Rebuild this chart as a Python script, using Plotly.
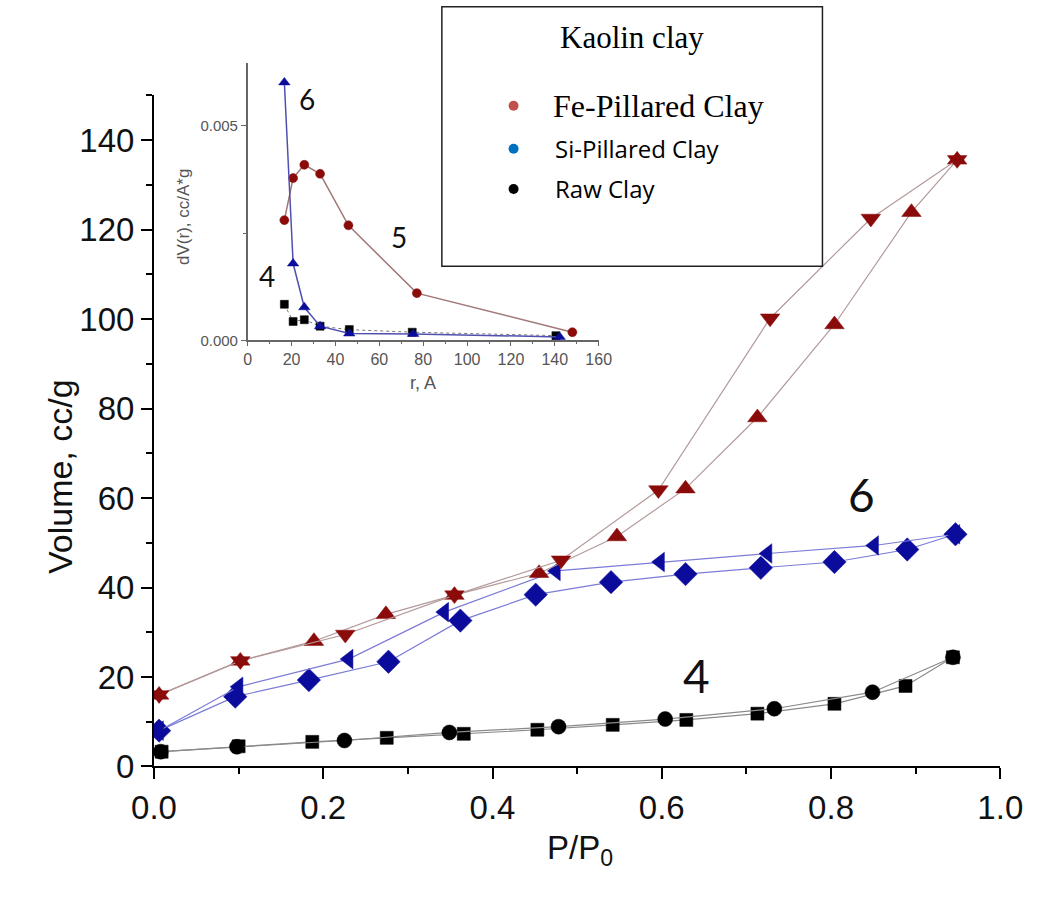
import plotly.graph_objects as go

W, H = 1052, 899

# ---------------- main isotherm data (P/P0, Volume cc/g) ----------------
fe_ads_p = [0.006, 0.102, 0.189, 0.274, 0.355, 0.455, 0.547, 0.628, 0.713, 0.804, 0.895, 0.949]
fe_ads_v = [16.0, 23.6, 28.0, 34.0, 38.3, 43.2, 51.4, 62.1, 78.0, 98.8, 123.9, 135.6]
fe_des_p = [0.949, 0.847, 0.728, 0.596, 0.481, 0.355, 0.226, 0.102, 0.006]
fe_des_v = [135.6, 122.5, 100.2, 61.8, 46.1, 38.3, 29.5, 23.6, 16.0]

si_ads_p = [0.006, 0.096, 0.183, 0.277, 0.362, 0.451, 0.540, 0.628, 0.717, 0.804, 0.890, 0.947]
si_ads_v = [8.0, 15.6, 19.3, 23.4, 32.6, 38.4, 41.2, 43.0, 44.4, 45.7, 48.5, 51.9]
si_des_p = [0.947, 0.851, 0.725, 0.598, 0.475, 0.343, 0.230, 0.100, 0.006]
si_des_v = [51.9, 49.4, 47.6, 45.7, 43.7, 34.5, 24.0, 17.8, 8.0]

raw_ads_p = [0.009, 0.100, 0.187, 0.275, 0.366, 0.453, 0.542, 0.629, 0.713, 0.804, 0.888, 0.944]
raw_ads_v = [3.3, 4.5, 5.5, 6.4, 7.3, 8.2, 9.3, 10.4, 11.8, 14.0, 18.0, 24.4]
raw_des_p = [0.944, 0.849, 0.733, 0.604, 0.478, 0.349, 0.225, 0.098, 0.008]
raw_des_v = [24.4, 16.6, 12.9, 10.6, 8.9, 7.6, 5.8, 4.4, 3.3]

# ---------------- inset pore-size distribution (r in A, dV/dr) ----------------
fe_r = [16.7, 20.7, 25.8, 33.0, 45.9, 77.1, 148.0]
fe_dv = [0.00280, 0.00378, 0.00409, 0.00388, 0.00268, 0.00110, 0.00019]
si_r = [16.7, 20.7, 25.8, 33.0, 46.3, 75.4, 142.2]
si_dv = [0.00601, 0.00179, 0.00077, 0.00033, 0.00016, 0.00015, 0.00008]
raw_r = [16.7, 20.7, 25.8, 33.0, 46.3, 75.0, 140.5]
raw_dv = [0.00084, 0.00044, 0.00048, 0.00033, 0.00025, 0.00019, 0.00011]

x_ticks_main = [0.0, 0.2, 0.4, 0.6, 0.8, 1.0]
y_ticks_main = [0, 20, 40, 60, 80, 100, 120, 140]

FE = "#8b0a0a"
SI = "#0c0c9c"
RAW = "#000000"
FE_LINE = "#b49a9a"
SI_LINE = "#7b7bd8"
RAW_LINE = "#8a8a8a"

fig = go.Figure()

def main_trace(x, y, symbol, color, lcolor, size):
    fig.add_trace(go.Scatter(
        x=x, y=y, mode="lines+markers", xaxis="x", yaxis="y",
        line=dict(color=lcolor, width=1.2),
        marker=dict(symbol=symbol, color=color, size=size,
                    line=dict(width=0.5, color=color)),
        showlegend=False, hoverinfo="x+y"))

main_trace(raw_ads_p, raw_ads_v, "square", RAW, RAW_LINE, 13)
main_trace(raw_des_p, raw_des_v, "circle", RAW, RAW_LINE, 15)
main_trace(si_ads_p, si_ads_v, "diamond", SI, SI_LINE, 18)
main_trace(si_des_p, si_des_v, "triangle-left", SI, SI_LINE, 17)
main_trace(fe_ads_p, fe_ads_v, "triangle-up", FE, FE_LINE, 17)
main_trace(fe_des_p, fe_des_v, "triangle-down", FE, FE_LINE, 17)

def inset_trace(x, y, symbol, color, lcolor, size, dash="solid", lw=1.5):
    fig.add_trace(go.Scatter(
        x=x, y=y, mode="lines+markers", xaxis="x2", yaxis="y2",
        line=dict(color=lcolor, width=lw, dash=dash),
        marker=dict(symbol=symbol, color=color, size=size,
                    line=dict(width=0.5, color=color)),
        showlegend=False, hoverinfo="x+y"))

inset_trace(raw_r, raw_dv, "square", RAW, "#777777", 8, dash="dot", lw=1)
inset_trace(fe_r, fe_dv, "circle", FE, "#a07878", 9)
inset_trace(si_r, si_dv, "triangle-up", SI, "#5050b0", 10)

AX_FONT = "Liberation Sans, Arial, sans-serif"

fig.update_layout(
    width=W, height=H,
    margin=dict(l=0, r=0, t=0, b=0),
    paper_bgcolor="white", plot_bgcolor="rgba(0,0,0,0)",
    xaxis=dict(domain=[137 / W, 1022 / W], range=[0, 1], anchor="y",
               tickvals=x_ticks_main, ticktext=[f"{v:.1f}" for v in x_ticks_main],
               showline=True, linecolor="black", linewidth=2,
               ticks="outside", ticklen=11, tickwidth=2, tickcolor="black",
               minor=dict(ticks="outside", ticklen=6, tickwidth=2, dtick=0.1,
                          tickcolor="black", showgrid=False),
               showgrid=False, zeroline=False,
               tickfont=dict(family=AX_FONT, size=33, color="#111111")),
    yaxis=dict(domain=[1 - 783 / H, 1 - 97.5 / H], range=[0, 150], anchor="x",
               tickvals=y_ticks_main,
               showline=True, linecolor="black", linewidth=2,
               ticks="outside", ticklen=11, tickwidth=2, tickcolor="black",
               minor=dict(ticks="outside", ticklen=6, tickwidth=2, dtick=10,
                          tickcolor="black", showgrid=False),
               showgrid=False, zeroline=False,
               tickfont=dict(family=AX_FONT, size=33, color="#111111")),
    xaxis2=dict(domain=[235 / W, 602 / W], range=[0, 160], anchor="y2",
                dtick=20, showline=True, linecolor="#666666", linewidth=1.5,
                ticks="outside", ticklen=4, tickwidth=1, tickcolor="#666666",
                minor=dict(ticks="outside", ticklen=2, dtick=10, tickcolor="#666666",
                           showgrid=False),
                showgrid=False, zeroline=False,
                tickfont=dict(family=AX_FONT, size=16, color="#555555")),
    yaxis2=dict(domain=[1 - 347.7 / H, 1 - 64 / H], range=[0, 0.00647], anchor="x2",
                tickvals=[0, 0.005], ticktext=["0.000", "0.005"],
                showline=True, linecolor="#666666", linewidth=1.5,
                ticks="outside", ticklen=5, tickwidth=1, tickcolor="#666666",
                minor=dict(ticks="outside", ticklen=3, tickvals=[0.0025],
                           tickcolor="#666666", showgrid=False),
                showgrid=False, zeroline=False,
                tickfont=dict(family=AX_FONT, size=15, color="#555555")),
)

def P(xp, yp):
    return xp / W, 1 - yp / H

ann = []
def add_text(text, xp, yp, size, family=AX_FONT, color="#111111", angle=0,
             xanchor="center", yanchor="middle"):
    x, y = P(xp, yp)
    ann.append(dict(text=text, x=x, y=y, xref="paper", yref="paper",
                    showarrow=False, textangle=angle, xanchor=xanchor,
                    yanchor=yanchor, font=dict(family=family, size=size, color=color)))

# axis titles
add_text("Volume, cc/g", 38, 487, 34, angle=-90)
add_text("P/P<sub>0</sub>", 582, 868, 33)
add_text("dV(r), cc/A*g", 168, 222, 17, color="#555555", angle=-90)
add_text("r, A", 418, 391, 18, color="#555555")

# curve labels
LBL = "Lato, Open Sans, sans-serif"
add_text("6", 877, 505, 46, family=LBL)
add_text("4", 704, 690, 46, family=LBL)
add_text("6", 297, 101, 28, family=LBL)
add_text("5", 393, 242, 28, family=LBL)
add_text("4", 255, 282, 28, family=LBL)

# legend box
SERIF = "Liberation Serif, Times New Roman, serif"
SANS = "Open Sans, Noto Sans, sans-serif"
add_text("Kaolin clay", 637, 38, 31, family=SERIF, color="#000000")
add_text("Fe-Pillared Clay", 552, 108, 32, family=SERIF, color="#000000", xanchor="left")
add_text("Si-Pillared Clay", 554, 152, 24, family=SANS, color="#000000", xanchor="left")
add_text("Raw Clay", 554, 193, 24, family=SANS, color="#000000", xanchor="left")

x0, y1 = P(438, 7)
x1, y0 = P(836, 272)
shapes = [dict(type="rect", xref="paper", yref="paper", x0=x0, x1=x1, y0=y0, y1=y1,
               line=dict(color="#222222", width=1.5), fillcolor="white", layer="above")]
for yp, col in [(108, "#c0504d"), (152, "#0070c0"), (193, "#000000")]:
    cx, cy = P(513, yp)
    shapes.append(dict(type="circle", xref="paper", yref="paper",
                       xsizemode="pixel", ysizemode="pixel", xanchor=cx, yanchor=cy,
                       x0=-5, x1=5, y0=-5, y1=5, fillcolor=col,
                       line=dict(width=0), layer="above"))

fig.update_layout(annotations=ann, shapes=shapes)

fig.write_html("out.html")
